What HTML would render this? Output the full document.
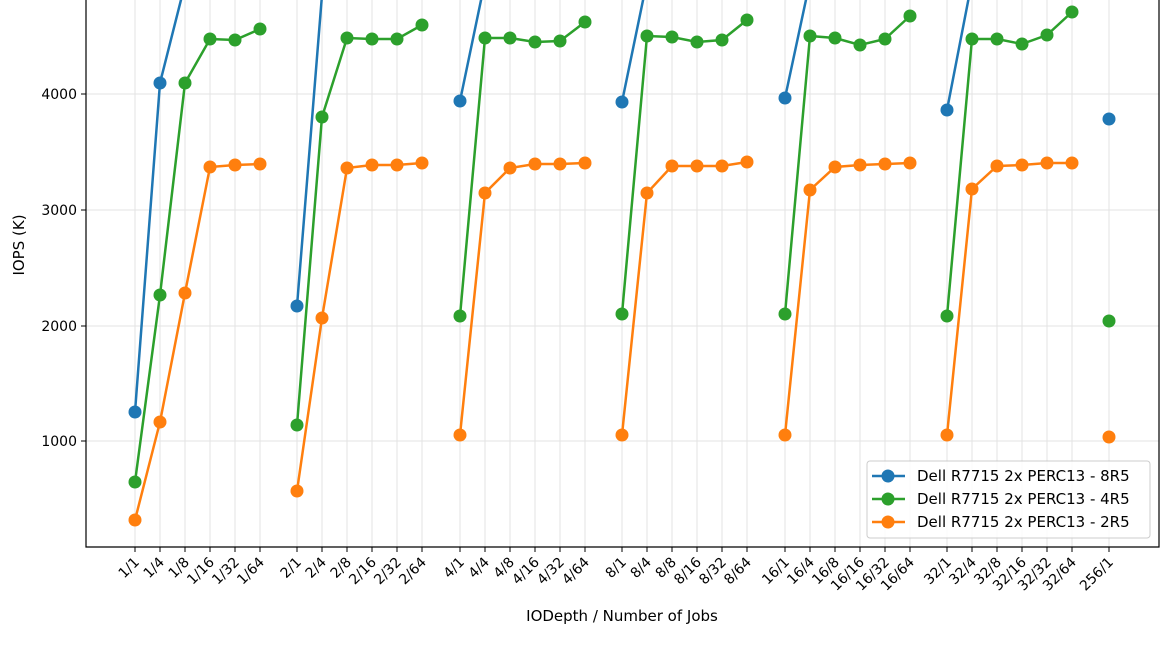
<!DOCTYPE html>
<html><head><meta charset="utf-8"><style>body{margin:0;background:#fff}svg{display:block;font-family:"DejaVu Sans","Liberation Sans",sans-serif}</style></head><body>
<svg width="1170" height="663" viewBox="0 0 1170 663" xmlns="http://www.w3.org/2000/svg">
<defs><clipPath id="c"><rect x="86" y="0" width="1073" height="547"/></clipPath></defs>
<g stroke="#e3e3e3" stroke-width="1">
<line x1="86" x2="1159" y1="94" y2="94"/><line x1="86" x2="1159" y1="210" y2="210"/><line x1="86" x2="1159" y1="326" y2="326"/><line x1="86" x2="1159" y1="441" y2="441"/>
<path d="M135 0V547M160 0V547M185 0V547M210 0V547M235 0V547M260 0V547M297 0V547M322 0V547M347 0V547M372 0V547M397 0V547M422 0V547M460 0V547M485 0V547M510 0V547M535 0V547M560 0V547M585 0V547M622 0V547M647 0V547M672 0V547M697 0V547M722 0V547M747 0V547M785 0V547M810 0V547M835 0V547M860 0V547M885 0V547M910 0V547M947 0V547M972 0V547M997 0V547M1022 0V547M1047 0V547M1072 0V547M1109 0V547"/>
</g>
<g clip-path="url(#c)" stroke-width="2.5" fill="none">
<g stroke="#1f77b4">
<polyline points="135,412 160,83 185,-16 210,-30 235,-30 260,-30"/>
<polyline points="297,306 322,-5 347,-30 372,-30 397,-30 422,-30"/>
<polyline points="460,101 485,-19 510,-30 535,-30 560,-30 585,-30"/>
<polyline points="622,102 647,-19 672,-30 697,-30 722,-30 747,-30"/>
<polyline points="785,98 810,-19 835,-30 860,-30 885,-30 910,-30"/>
<polyline points="947,110 972,-19 997,-30 1022,-30 1047,-30 1072,-30"/>
</g>
<g stroke="#2ca02c">
<polyline points="135,482 160,295 185,83 210,39 235,40 260,29"/>
<polyline points="297,425 322,117 347,38 372,39 397,39 422,25"/>
<polyline points="460,316 485,38 510,38 535,42 560,41 585,22"/>
<polyline points="622,314 647,36 672,37 697,42 722,40 747,20"/>
<polyline points="785,314 810,36 835,38 860,45 885,39 910,16"/>
<polyline points="947,316 972,39 997,39 1022,44 1047,35 1072,12"/>
</g>
<g stroke="#ff7f0e">
<polyline points="135,520 160,422 185,293 210,167 235,165 260,164"/>
<polyline points="297,491 322,318 347,168 372,165 397,165 422,163"/>
<polyline points="460,435 485,193 510,168 535,164 560,164 585,163"/>
<polyline points="622,435 647,193 672,166 697,166 722,166 747,162"/>
<polyline points="785,435 810,190 835,167 860,165 885,164 910,163"/>
<polyline points="947,435 972,189 997,166 1022,165 1047,163 1072,163"/>
</g>
</g>
<g clip-path="url(#c)">
<g fill="#1f77b4"><circle cx="135" cy="412" r="6.5"/><circle cx="160" cy="83" r="6.5"/><circle cx="297" cy="306" r="6.5"/><circle cx="460" cy="101" r="6.5"/><circle cx="622" cy="102" r="6.5"/><circle cx="785" cy="98" r="6.5"/><circle cx="947" cy="110" r="6.5"/><circle cx="1109" cy="119" r="6.5"/></g>
<g fill="#2ca02c"><circle cx="135" cy="482" r="6.5"/><circle cx="160" cy="295" r="6.5"/><circle cx="185" cy="83" r="6.5"/><circle cx="210" cy="39" r="6.5"/><circle cx="235" cy="40" r="6.5"/><circle cx="260" cy="29" r="6.5"/><circle cx="297" cy="425" r="6.5"/><circle cx="322" cy="117" r="6.5"/><circle cx="347" cy="38" r="6.5"/><circle cx="372" cy="39" r="6.5"/><circle cx="397" cy="39" r="6.5"/><circle cx="422" cy="25" r="6.5"/><circle cx="460" cy="316" r="6.5"/><circle cx="485" cy="38" r="6.5"/><circle cx="510" cy="38" r="6.5"/><circle cx="535" cy="42" r="6.5"/><circle cx="560" cy="41" r="6.5"/><circle cx="585" cy="22" r="6.5"/><circle cx="622" cy="314" r="6.5"/><circle cx="647" cy="36" r="6.5"/><circle cx="672" cy="37" r="6.5"/><circle cx="697" cy="42" r="6.5"/><circle cx="722" cy="40" r="6.5"/><circle cx="747" cy="20" r="6.5"/><circle cx="785" cy="314" r="6.5"/><circle cx="810" cy="36" r="6.5"/><circle cx="835" cy="38" r="6.5"/><circle cx="860" cy="45" r="6.5"/><circle cx="885" cy="39" r="6.5"/><circle cx="910" cy="16" r="6.5"/><circle cx="947" cy="316" r="6.5"/><circle cx="972" cy="39" r="6.5"/><circle cx="997" cy="39" r="6.5"/><circle cx="1022" cy="44" r="6.5"/><circle cx="1047" cy="35" r="6.5"/><circle cx="1072" cy="12" r="6.5"/><circle cx="1109" cy="321" r="6.5"/></g>
<g fill="#ff7f0e"><circle cx="135" cy="520" r="6.5"/><circle cx="160" cy="422" r="6.5"/><circle cx="185" cy="293" r="6.5"/><circle cx="210" cy="167" r="6.5"/><circle cx="235" cy="165" r="6.5"/><circle cx="260" cy="164" r="6.5"/><circle cx="297" cy="491" r="6.5"/><circle cx="322" cy="318" r="6.5"/><circle cx="347" cy="168" r="6.5"/><circle cx="372" cy="165" r="6.5"/><circle cx="397" cy="165" r="6.5"/><circle cx="422" cy="163" r="6.5"/><circle cx="460" cy="435" r="6.5"/><circle cx="485" cy="193" r="6.5"/><circle cx="510" cy="168" r="6.5"/><circle cx="535" cy="164" r="6.5"/><circle cx="560" cy="164" r="6.5"/><circle cx="585" cy="163" r="6.5"/><circle cx="622" cy="435" r="6.5"/><circle cx="647" cy="193" r="6.5"/><circle cx="672" cy="166" r="6.5"/><circle cx="697" cy="166" r="6.5"/><circle cx="722" cy="166" r="6.5"/><circle cx="747" cy="162" r="6.5"/><circle cx="785" cy="435" r="6.5"/><circle cx="810" cy="190" r="6.5"/><circle cx="835" cy="167" r="6.5"/><circle cx="860" cy="165" r="6.5"/><circle cx="885" cy="164" r="6.5"/><circle cx="910" cy="163" r="6.5"/><circle cx="947" cy="435" r="6.5"/><circle cx="972" cy="189" r="6.5"/><circle cx="997" cy="166" r="6.5"/><circle cx="1022" cy="165" r="6.5"/><circle cx="1047" cy="163" r="6.5"/><circle cx="1072" cy="163" r="6.5"/><circle cx="1109" cy="437" r="6.5"/></g>
</g>
<path d="M86 0V547H1159V0" stroke="#000" stroke-width="1.2" fill="none"/>
<g stroke="#000" stroke-width="1"><path d="M81 94H86M81 210H86M81 326H86M81 441H86"/>
<path d="M135 547v5M160 547v5M185 547v5M210 547v5M235 547v5M260 547v5M297 547v5M322 547v5M347 547v5M372 547v5M397 547v5M422 547v5M460 547v5M485 547v5M510 547v5M535 547v5M560 547v5M585 547v5M622 547v5M647 547v5M672 547v5M697 547v5M722 547v5M747 547v5M785 547v5M810 547v5M835 547v5M860 547v5M885 547v5M910 547v5M947 547v5M972 547v5M997 547v5M1022 547v5M1047 547v5M1072 547v5M1109 547v5"/></g>
<g font-size="14" text-anchor="end" fill="#000">
<text x="77" y="99">4000</text><text x="77" y="215">3000</text><text x="77" y="331">2000</text><text x="77" y="446">1000</text>
</g>
<g font-size="14" text-anchor="end" fill="#000">
<text transform="translate(140,563) rotate(-45)">1/1</text><text transform="translate(165,563) rotate(-45)">1/4</text><text transform="translate(190,563) rotate(-45)">1/8</text><text transform="translate(215,563) rotate(-45)">1/16</text><text transform="translate(240,563) rotate(-45)">1/32</text><text transform="translate(265,563) rotate(-45)">1/64</text>
<text transform="translate(302,563) rotate(-45)">2/1</text><text transform="translate(327,563) rotate(-45)">2/4</text><text transform="translate(352,563) rotate(-45)">2/8</text><text transform="translate(377,563) rotate(-45)">2/16</text><text transform="translate(402,563) rotate(-45)">2/32</text><text transform="translate(427,563) rotate(-45)">2/64</text>
<text transform="translate(465,563) rotate(-45)">4/1</text><text transform="translate(490,563) rotate(-45)">4/4</text><text transform="translate(515,563) rotate(-45)">4/8</text><text transform="translate(540,563) rotate(-45)">4/16</text><text transform="translate(565,563) rotate(-45)">4/32</text><text transform="translate(590,563) rotate(-45)">4/64</text>
<text transform="translate(627,563) rotate(-45)">8/1</text><text transform="translate(652,563) rotate(-45)">8/4</text><text transform="translate(677,563) rotate(-45)">8/8</text><text transform="translate(702,563) rotate(-45)">8/16</text><text transform="translate(727,563) rotate(-45)">8/32</text><text transform="translate(752,563) rotate(-45)">8/64</text>
<text transform="translate(790,563) rotate(-45)">16/1</text><text transform="translate(815,563) rotate(-45)">16/4</text><text transform="translate(840,563) rotate(-45)">16/8</text><text transform="translate(865,563) rotate(-45)">16/16</text><text transform="translate(890,563) rotate(-45)">16/32</text><text transform="translate(915,563) rotate(-45)">16/64</text>
<text transform="translate(952,563) rotate(-45)">32/1</text><text transform="translate(977,563) rotate(-45)">32/4</text><text transform="translate(1002,563) rotate(-45)">32/8</text><text transform="translate(1027,563) rotate(-45)">32/16</text><text transform="translate(1052,563) rotate(-45)">32/32</text><text transform="translate(1077,563) rotate(-45)">32/64</text>
<text transform="translate(1114,563) rotate(-45)">256/1</text>
</g>
<text x="622" y="621" font-size="15" text-anchor="middle">IODepth / Number of Jobs</text>
<text transform="translate(24,245) rotate(-90)" font-size="15" text-anchor="middle">IOPS (K)</text>
<rect x="867" y="461" width="283" height="77" rx="3" fill="#fff" fill-opacity="0.85" stroke="#ccc"/>
<g stroke-width="2.5"><line x1="872" x2="905" y1="476" y2="476" stroke="#1f77b4"/><line x1="872" x2="905" y1="499" y2="499" stroke="#2ca02c"/><line x1="872" x2="905" y1="522" y2="522" stroke="#ff7f0e"/></g>
<circle cx="888" cy="476" r="6.5" fill="#1f77b4"/><circle cx="888" cy="499" r="6.5" fill="#2ca02c"/><circle cx="888" cy="522" r="6.5" fill="#ff7f0e"/>
<g font-size="15"><text x="917" y="481">Dell R7715 2x PERC13 - 8R5</text><text x="917" y="504">Dell R7715 2x PERC13 - 4R5</text><text x="917" y="527">Dell R7715 2x PERC13 - 2R5</text></g>
</svg>
</body></html>
